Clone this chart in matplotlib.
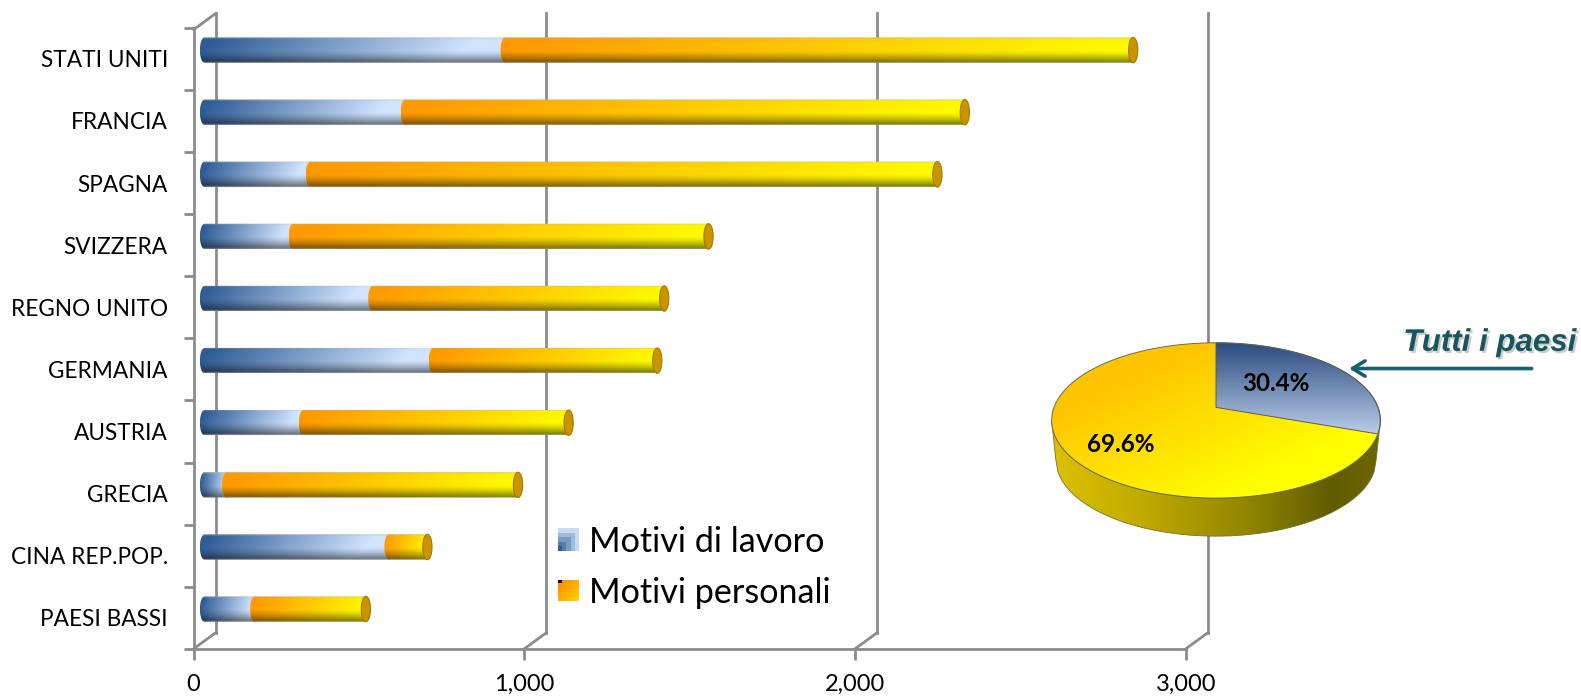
import numpy as np
import matplotlib
matplotlib.use("Agg")
import matplotlib.pyplot as plt
import matplotlib.patheffects as pe
from matplotlib.colors import LinearSegmentedColormap
from matplotlib.path import Path
from matplotlib.patches import Ellipse, Polygon

paesi = ["STATI UNITI", "FRANCIA", "SPAGNA", "SVIZZERA", "REGNO UNITO",
         "GERMANIA", "AUSTRIA", "GRECIA", "CINA REP.POP.", "PAESI BASSI"]
lavoro = [909, 607, 320, 268, 509, 692, 299, 67, 558, 152]
personali = [1899, 1692, 1896, 1256, 881, 677, 802, 881, 116, 336]
xticks = [0, 1000, 2000, 3000]
xticklabels = ["0", "1,000", "2,000", "3,000"]
quote = [30.4, 69.6]
quote_labels = ["30.4%", "69.6%"]

plt.rcParams['font.family'] = ['Lato', 'DejaVu Sans']
W, H = 1581, 696
S = W / 1568  # coordinates below were read on the shrunk picture

def fx(x):
    return x * S / W

def fy(y):
    return 1 - y * S / H

fig = plt.figure(figsize=(W / 100, H / 100), dpi=100)
ax = fig.add_axes([fx(192), fy(643.5), fx(1176) - fx(192), fy(27.5) - fy(643.5)])
grey = "#8c8c8c"

# offsets of the fake 3d box and of the bars, in data units
back_x, back_y = 67, -0.26
bar_x, bar_y = 33, -0.14
bar_h = 0.41
cap = 14


def capsule(x0, x1, yc):
    t = np.linspace(-np.pi / 2, np.pi / 2, 30)
    left = np.column_stack([x0 - cap * np.cos(t), yc + bar_h / 2 * np.sin(t)])
    right = np.column_stack([x1 + cap * np.cos(t[::-1]), yc + bar_h / 2 * np.sin(t[::-1])])
    return Path(np.vstack([left, right, left[:1]]))


def bar_image(c0, c1, sat=1.0):
    u, v = np.meshgrid(np.linspace(0, 1, 200), np.linspace(0, 1, 40))
    t = np.clip((u + 0.12 * (v - 0.5)) / sat, 0, 1)[..., None]
    rgb = np.array(matplotlib.colors.to_rgb(c0)) * (1 - t) + np.array(matplotlib.colors.to_rgb(c1)) * t
    shade = np.where(v < 0.5, 1.0, 1 - 0.55 * ((v - 0.5) / 0.5) ** 1.4)[..., None]
    rgb = rgb * shade
    top = np.clip(1 - v / 0.08, 0, 1)[..., None] * 0.5
    low = np.clip((v - 0.94) / 0.06, 0, 1)[..., None] * 0.5
    grey_rgb = np.array([0.72, 0.72, 0.72])
    rgb = rgb * (1 - top) + grey_rgb * top
    return rgb * (1 - low) + grey_rgb * low


# back wall and floor
for t in xticks:
    ax.plot([t + back_x, t + back_x], [9.5 + back_y, -0.73], color=grey, lw=2, zorder=1, clip_on=False)
    ax.plot([t, t + back_x], [9.5, 9.5 + back_y], color=grey, lw=2, zorder=1, clip_on=False)
ax.plot([0, back_x], [-0.47, -0.73], color=grey, lw=2, zorder=1, clip_on=False)

for i, name in enumerate(paesi):
    yc = i + bar_y
    x0 = bar_x
    x1 = bar_x + lavoro[i]
    x2 = x1 + personali[i]
    im = ax.imshow(bar_image("#2f5c96", "#d0e4fe", 0.85), extent=(x0 - cap, x1 + cap, yc + bar_h / 2, yc - bar_h / 2),
                   aspect="auto", zorder=3)
    im.set_clip_path(capsule(x0, x1, yc), ax.transData)
    im = ax.imshow(bar_image("#ff9900", "#ffff00"), extent=(x1 - cap, x2 + cap, yc + bar_h / 2, yc - bar_h / 2),
                   aspect="auto", zorder=4)
    im.set_clip_path(capsule(x1, x2, yc), ax.transData)
    ax.add_patch(Ellipse((x2, yc), 2 * cap, bar_h, facecolor="#c99400", edgecolor="#a67c00", lw=0.8, zorder=5))

ax.set_xlim(0, 3000)
ax.set_ylim(9.5, -0.5)
ax.patch.set_visible(False)
for s in ["top", "right"]:
    ax.spines[s].set_visible(False)
for s in ["left", "bottom"]:
    ax.spines[s].set_color(grey)
    ax.spines[s].set_linewidth(2)
ax.set_xticks(xticks, xticklabels, fontsize=17)
ax.set_yticks(range(len(paesi)), paesi, fontsize=16.3)
ax.set_yticks(np.arange(-0.5, 10), minor=True)
ax.tick_params(axis="y", which="major", length=0, pad=18.5)
ax.tick_params(axis="y", which="minor", length=7, width=2, color=grey)
ax.tick_params(axis="x", length=8, width=2, color=grey, pad=10)

# legend swatches
blue_sw = np.array([[5, 5, 5, 5, 5], [4, 4, 4, 4, 5], [3, 3, 3, 4, 5], [2, 2, 3, 4, 5], [1, 2, 3, 4, 5]], float)
cm_blue = LinearSegmentedColormap.from_list("b", ["#2f5c96", "#c8d9f0"])
sa = fig.add_axes([fx(553), fy(546), fx(573) - fx(553), fy(524) - fy(546)])
sa.imshow(blue_sw, cmap=cm_blue, aspect="auto", interpolation="nearest")
sa.axis("off")
u, v = np.meshgrid(np.linspace(0, 1, 5), np.linspace(0, 1, 5))
cm_or = LinearSegmentedColormap.from_list("o", ["#ff8a00", "#ffd000"])
orange_sw = cm_or((u + v) / 2)
orange_sw[0, 0, :3] = 0
sa = fig.add_axes([fx(553), fy(596), fx(573) - fx(553), fy(575) - fy(596)])
sa.imshow(orange_sw, aspect="auto", interpolation="nearest")
sa.axis("off")
fig.text(fx(584), fy(538), "Motivi di lavoro", fontsize=24.6, va="center", color="black")
fig.text(fx(584), fy(588), "Motivi personali", fontsize=24.6, va="center", color="black")

# pie, drawn as a tilted disc seen in perspective
pa = fig.add_axes([fx(1040), fy(536), fx(1372) - fx(1040), fy(337) - fy(536)])
rx = (1369 - 1043) / 2
ry = 77
pa.axis("off")
a = 13 / 77


def disc(theta):
    xs, vs = np.sin(theta), np.cos(theta)
    d = 1 + a * vs
    return np.column_stack([xs * np.sqrt(1 - a ** 2) / d, (vs + a) / d])


cut = quote[0] / sum(quote) * 2 * np.pi
full = disc(np.linspace(0, 2 * np.pi, 300))
blue = np.vstack([[[0, a]], disc(np.linspace(0, cut, 80))])
depth = 0.5

# side wall
lx = np.linspace(-1, 1, 150)
ly = -np.sqrt(1 - lx ** 2)
lower = np.column_stack([0.975 * lx, 0.99 * ly - depth])
wall = np.vstack([np.column_stack([lx, ly]), lower[::-1]])
cm_wall = LinearSegmentedColormap.from_list(
    "w", [(0, "#dcc000"), (0.25, "#c4ad00"), (0.6, "#8f8500"), (0.85, "#625c00"), (1, "#6c6600")])
im = pa.imshow(np.linspace(0, 1, 256)[None, :], cmap=cm_wall, extent=(-1, 1, -1.6, 0.1), aspect="auto", zorder=1)
im.set_clip_path(Path(wall), pa.transData)
pa.add_patch(Polygon(wall, closed=True, fill=False, edgecolor="#77722a", lw=0.6, zorder=2))

# top face
u, v = np.meshgrid(np.linspace(-1, 1, 200), np.linspace(1, -1, 200))
cm_top = LinearSegmentedColormap.from_list("t", ["#ffc400", "#ffff00"])
im = pa.imshow(np.clip((u - v + 1.1) / 2.2, 0, 1), cmap=cm_top, vmin=0, vmax=1, extent=(-1, 1, -1, 1), aspect="auto", zorder=3)
im.set_clip_path(Path(full), pa.transData)
cm_b = LinearSegmentedColormap.from_list("p", ["#2a4a7f", "#bdd0ea"])
im = pa.imshow(np.linspace(0, 1, 200)[:, None], cmap=cm_b, extent=(0, 1, -0.2, 1), aspect="auto", zorder=4)
im.set_clip_path(Path(blue), pa.transData)
pa.add_patch(Polygon(full, closed=True, fill=False, edgecolor="#6b6b50", lw=0.7, zorder=5))
pa.add_patch(Polygon(blue, closed=True, fill=False, edgecolor="#5b5b5b", lw=0.7, zorder=5))
pa.set_xlim(-(1206 - 1040) / rx, (1372 - 1206) / rx)
pa.set_ylim(-(536 - 417) / ry, (417 - 337) / ry)

fig.text(fx(1265), fy(380), quote_labels[0], fontsize=17.5, fontweight="bold", ha="center", va="center", zorder=10)
fig.text(fx(1112), fy(441), quote_labels[1], fontsize=17.5, fontweight="bold", ha="center", va="center", zorder=10)
fig.text(fx(1563), fy(340), "Tutti i paesi", fontsize=22.5, fontweight="bold", style="italic",
         family=["Liberation Sans"], color="#17555f", ha="right", va="center", zorder=10,
         path_effects=[pe.withSimplePatchShadow(offset=(1.5, -1.5), alpha=0.3, shadow_rgbFace="#555555")])
pa.annotate("", xy=(fx(1338), fy(365.5)), xytext=(fx(1519), fy(365.5)), xycoords="figure fraction",
            textcoords="figure fraction", annotation_clip=False, zorder=10,
            arrowprops=dict(arrowstyle="->,head_length=0.9,head_width=0.55", color="#17606c", lw=2.6,
                            shrinkA=0, shrinkB=0))

fig.savefig("out.png", dpi=100)
